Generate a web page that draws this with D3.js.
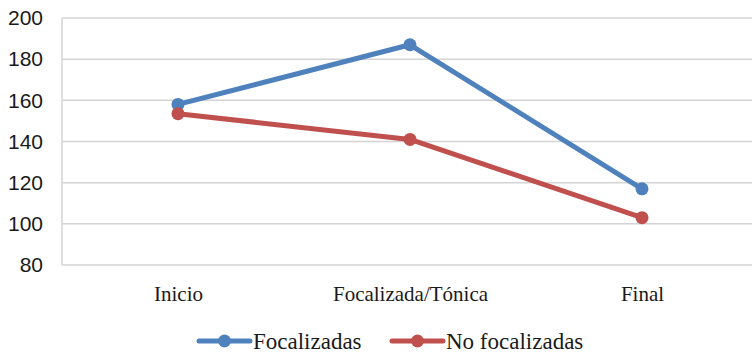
<!DOCTYPE html>
<html>
<head>
<meta charset="utf-8">
<script src="https://cdn.jsdelivr.net/npm/d3@7"></script>
<style>
  html, body { margin: 0; padding: 0; background: #fff; }
  svg { display: block; }
</style>
</head>
<body>
<svg id="chart" width="752" height="352"></svg>
<script>
// Categories and series
const categories = ["Inicio", "Focalizada/Tónica", "Final"];
const focalizadas = [158, 187, 117];
const noFocalizadas = [153.5, 141, 103];
const yTicks = [80, 100, 120, 140, 160, 180, 200];
const seriesNames = ["Focalizadas", "No focalizadas"];
const seriesColors = ["#4F81BD", "#C0504D"];

const series = [
  { name: seriesNames[0], values: focalizadas, color: seriesColors[0] },
  { name: seriesNames[1], values: noFocalizadas, color: seriesColors[1] }
];

const svg = d3.select("#chart");
const plotLeft = 62, plotRight = 758, plotTop = 18, plotBottom = 265;

const x = d3.scalePoint().domain(categories).range([plotLeft, plotRight]).padding(0.5);
const y = d3.scaleLinear().domain([80, 200]).range([plotBottom, plotTop]);

// Horizontal gridlines
svg.append("g")
  .selectAll("line")
  .data(yTicks)
  .join("line")
  .attr("x1", plotLeft).attr("x2", plotRight)
  .attr("y1", d => y(d)).attr("y2", d => y(d))
  .attr("stroke", "#d4d4d4")
  .attr("stroke-width", 1.5);

// Left axis line
svg.append("line")
  .attr("x1", plotLeft).attr("x2", plotLeft)
  .attr("y1", plotTop).attr("y2", plotBottom)
  .attr("stroke", "#d4d4d4")
  .attr("stroke-width", 1.5);

// Y tick labels
const yAxis = d3.axisLeft(y).tickValues(yTicks).tickSize(0).tickPadding(19);
const gy = svg.append("g").attr("transform", `translate(${plotLeft},0)`).call(yAxis);
gy.select(".domain").remove();
gy.selectAll("text")
  .attr("font-family", "'Liberation Sans', Arial, sans-serif")
  .attr("font-size", 21)
  .attr("fill", "#1a1a1a");

// X category labels
const xAxis = d3.axisBottom(x).tickSize(0).tickPadding(21);
const gx = svg.append("g").attr("transform", `translate(0,${plotBottom})`).call(xAxis);
gx.select(".domain").remove();
gx.selectAll("text")
  .attr("font-family", "'Liberation Serif', 'Times New Roman', serif")
  .attr("font-size", 21)
  .attr("fill", "#1a1a1a");

// Lines and markers
const line = d3.line()
  .x((d, i) => x(categories[i]))
  .y(d => y(d));

series.forEach(s => {
  svg.append("path")
    .datum(s.values)
    .attr("d", line)
    .attr("fill", "none")
    .attr("stroke", s.color)
    .attr("stroke-width", 5)
    .attr("stroke-linejoin", "round")
    .attr("stroke-linecap", "round");
  svg.append("g")
    .selectAll("circle")
    .data(s.values)
    .join("circle")
    .attr("cx", (d, i) => x(categories[i]))
    .attr("cy", d => y(d))
    .attr("r", 6.5)
    .attr("fill", s.color);
});

// Legend
const legendItems = [
  { x0: 199, color: seriesColors[0], label: seriesNames[0] },
  { x0: 392, color: seriesColors[1], label: seriesNames[1] }
];
const ly = 341;
legendItems.forEach(it => {
  const g = svg.append("g");
  g.append("line")
    .attr("x1", it.x0).attr("x2", it.x0 + 51)
    .attr("y1", ly).attr("y2", ly)
    .attr("stroke", it.color).attr("stroke-width", 5)
    .attr("stroke-linecap", "round");
  g.append("circle")
    .attr("cx", it.x0 + 25.5).attr("cy", ly).attr("r", 6.5)
    .attr("fill", it.color);
  g.append("text")
    .attr("x", it.x0 + 54).attr("y", ly + 7.5)
    .attr("font-family", "'Liberation Serif', 'Times New Roman', serif")
    .attr("font-size", 23)
    .attr("fill", "#1a1a1a")
    .text(it.label);
});
</script>
</body>
</html>
